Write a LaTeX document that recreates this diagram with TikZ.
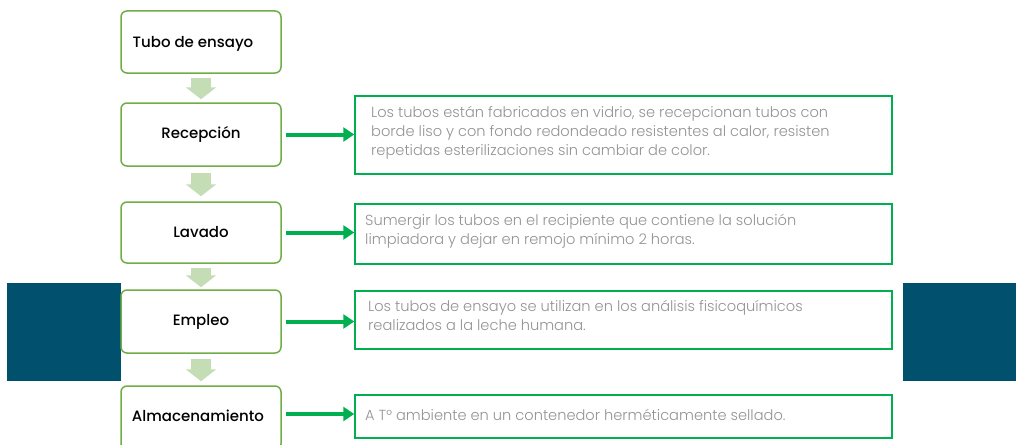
\documentclass[tikz,border=0pt]{standalone}
\usepackage{fontspec}
\setmainfont{Poppins}[BoldFont={* Medium}]
\newfontfamily\lightfont{Poppins Light}
\usetikzlibrary{arrows.meta,calc}
\definecolor{stepgreen}{HTML}{70AD47}
\definecolor{flowgreen}{HTML}{C5DDB5}
\definecolor{linkgreen}{HTML}{00B050}
\definecolor{darkpanel}{HTML}{00506E}
\definecolor{desctext}{HTML}{939393}
\tikzset{
  stepbox/.style={draw=stepgreen, line width=1.5pt, rounded corners=6pt, fill=white,
    minimum width=160pt, inner sep=0pt, font=\fontsize{15}{17}\selectfont\bfseries},
  descbox/.style={draw=linkgreen, line width=1.5pt, minimum width=537pt, inner sep=0pt},
  desctxt/.style={anchor=north west, align=left, inner sep=0pt, text=desctext,
    font=\lightfont\fontsize{14.6}{19}\selectfont},
  flowarrow/.style={draw=flowgreen, line width=20pt, -{Triangle[length=12pt,width=30pt]}},
  linkarrow/.style={draw=linkgreen, line width=4pt, -{Triangle[length=11pt,width=14pt]}},
}
\begin{document}
\begin{tikzpicture}[x=1pt,y=-1pt]
\useasboundingbox (0,0) rectangle (1016,444);
% dark panels
\fill[darkpanel] (7,283) rectangle (121,381);
\fill[darkpanel] (903,283) rectangle (1016,381);
% left step boxes
\node[stepbox, minimum height=62pt] (s1) at (201,42) {};
\node[font=\fontsize{15}{17}\selectfont\bfseries] (t1) at (193,44) {Tubo de ensayo};
\node[stepbox, minimum height=63pt] (s2) at (201,134.5) {Recepción};
\node[stepbox, minimum height=61pt] (s3) at (201,232.5) {Lavado};
\node[stepbox, minimum height=63pt] (s4) at (201,321.5) {Empleo};
\node[stepbox, minimum height=64pt] (s5) at (201,418) {};
\node[font=\fontsize{15}{17}\selectfont\bfseries] (t5) at (198,416) {Almacenamiento};
% flow arrows
\draw[flowarrow] ($(s1.south)+(0,4)$) -- ($(s2.north)+(0,-3)$);
\draw[flowarrow] ($(s2.south)+(0,6)$) -- ($(s3.north)+(0,-5)$);
\draw[flowarrow] ($(s3.south)+(0,4)$) -- ($(s4.north)+(0,-2)$);
\draw[flowarrow] ($(s4.south)+(0,5)$) -- ($(s5.north)+(0,-4)$);
% description boxes
\node[descbox, minimum height=78pt] (d1) at (623.5,135) {};
\node[descbox, minimum height=60pt] (d2) at (623.5,234) {};
\node[descbox, minimum height=58pt] (d3) at (623.5,320) {};
\node[descbox, minimum height=43pt] (d4) at (623.5,416.5) {};
\node[desctxt] (x1) at (371,106) {Los tubos están fabricados en vidrio, se recepcionan tubos con\\borde liso y con fondo redondeado resistentes al calor, resisten\\repetidas esterilizaciones sin cambiar de color.};
\node[desctxt] (x2) at (365,214) {Sumergir los tubos en el recipiente que contiene la solución\\limpiadora y dejar en remojo mínimo 2 horas.};
\node[desctxt] (x3) at (368,300) {Los tubos de ensayo se utilizan en los análisis fisicoquímicos\\realizados a la leche humana.};
\node[desctxt] (x4) at (365,409) {A T° ambiente en un contenedor herméticamente sellado.};
% link arrows
\draw[linkarrow] ($(s2.east)+(4,0)$) -- (s2.east -| d1.west);
\draw[linkarrow] ($(s3.east)+(4,0)$) -- (s3.east -| d2.west);
\draw[linkarrow] ($(s4.east)+(4,0)$) -- (s4.east -| d3.west);
\draw[linkarrow] ($(s5.east)+(4,-4)$) -- ($(s5.east -| d4.west)+(0,-4)$);
\end{tikzpicture}
\end{document}
